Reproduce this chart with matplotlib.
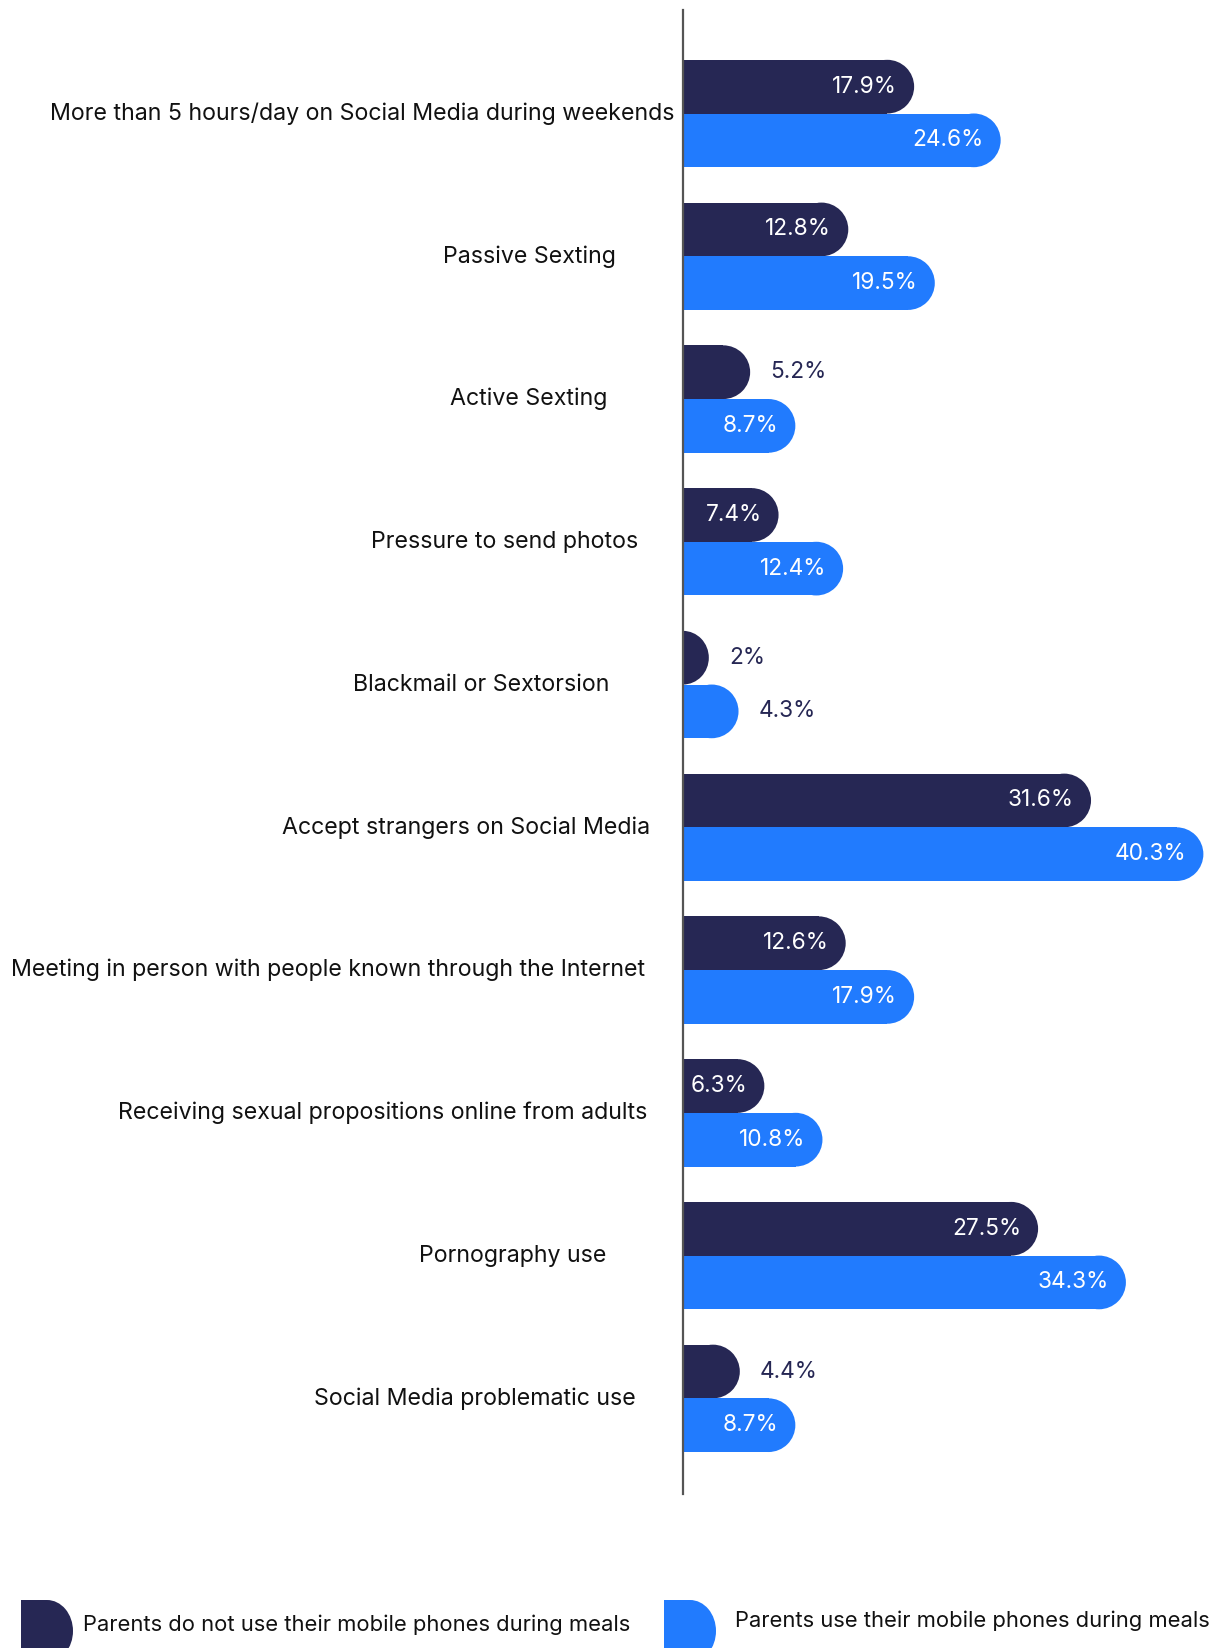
import matplotlib
matplotlib.use("Agg")
from matplotlib import pyplot as plt
from matplotlib.patches import Ellipse, Rectangle
import numpy as np

plt.rcParams['font.family'] = ['Inter', 'DejaVu Sans']

# Data
categories = [
    "More than 5 hours/day on Social Media during weekends",
    "Passive Sexting",
    "Active Sexting",
    "Pressure to send photos",
    "Blackmail or Sextorsion",
    "Accept strangers on Social Media",
    "Meeting in person with people known through the Internet",
    "Receiving sexual propositions online from adults",
    "Pornography use",
    "Social Media problematic use",
]
no_phone = [17.9, 12.8, 5.2, 7.4, 2.0, 31.6, 12.6, 6.3, 27.5, 4.4]
with_phone = [24.6, 19.5, 8.7, 12.4, 4.3, 40.3, 17.9, 10.8, 34.3, 8.7]
no_phone_txt = ["17.9%", "12.8%", "5.2%", "7.4%", "2%", "31.6%", "12.6%", "6.3%", "27.5%", "4.4%"]
with_phone_txt = ["24.6%", "19.5%", "8.7%", "12.4%", "4.3%", "40.3%", "17.9%", "10.8%", "34.3%", "8.7%"]
series_names = ["Parents do not use their mobile phones during meals",
                "Parents use their mobile phones during meals"]

# layout / style
navy = '#262754'
blue = '#217BFE'
label_gap_px = [8, 67, 76, 45, 74, 33, 38, 36, 77, 47]
W, H = 1223, 1648
fs = 16.7
fs_val = 16.3
fs_leg = 15.8

fig = plt.figure(figsize=(W / 100, H / 100), dpi=100)
ax_left, ax_right = 683, 1215
ax_top, ax_bot = 10, 1494
ax = fig.add_axes([ax_left / W, 1 - ax_bot / H, (ax_right - ax_left) / W, (ax_bot - ax_top) / H])

xmax = 41.2
ax.set_xlim(0, xmax)
ax.set_ylim(9.67, -0.725)
n = len(categories)
y = np.arange(n)
h = 0.376

ax_w_px = ax_right - ax_left
ax_h_px = ax_bot - ax_top
dx_per_px = xmax / ax_w_px
dy_per_px = (9.67 + 0.725) / ax_h_px
r = (h / dy_per_px) / 2 * dx_per_px  # corner radius in x-data units


def rounded_bar(yc, val, color):
    rx = min(r, val)
    ax.add_patch(Rectangle((0, yc - h / 2), max(val - rx, 0), h, color=color, lw=0))
    ax.add_patch(Ellipse((val - rx, yc), 2 * rx, h, color=color, lw=0))


for i in range(n):
    for val, txt, color, yc in [(no_phone[i], no_phone_txt[i], navy, y[i] - h / 2),
                                (with_phone[i], with_phone_txt[i], blue, y[i] + h / 2)]:
        rounded_bar(yc, val, color)
        if val >= 6:
            ax.text(val - 17 * dx_per_px, yc, txt, ha='right', va='center',
                    color='white', fontsize=fs_val)
        else:
            ax.text(val + 20 * dx_per_px, yc, txt, ha='left', va='center',
                    color=navy, fontsize=fs_val)
    ax.annotate(categories[i], xy=(0, y[i]), xycoords=('axes fraction', 'data'),
                xytext=(-label_gap_px[i], 0), textcoords='offset pixels',
                ha='right', va='center', fontsize=fs, color='#111111')

for s in ['top', 'right', 'bottom']:
    ax.spines[s].set_visible(False)
ax.spines['left'].set_color('#555555')
ax.spines['left'].set_linewidth(1.6)
ax.set_xticks([])
ax.set_yticks([])
ax.set_zorder(2)

# legend
lax = fig.add_axes([0, 0, 1, 1], zorder=1)
lax.set_xlim(0, W)
lax.set_ylim(H, 0)
lax.axis('off')
for x0, xtxt, ytxt, color, name in [(21, 83, 1625, navy, series_names[0]),
                                     (664, 735, 1621, blue, series_names[1])]:
    lax.add_patch(Rectangle((x0, 1600), 26, 62, color=color, lw=0))
    lax.add_patch(Ellipse((x0 + 26, 1631), 52, 62, color=color, lw=0))
    lax.text(xtxt, ytxt, name, ha='left', va='center', fontsize=fs_leg, color='#111111')

fig.savefig('out.png', dpi=100)
